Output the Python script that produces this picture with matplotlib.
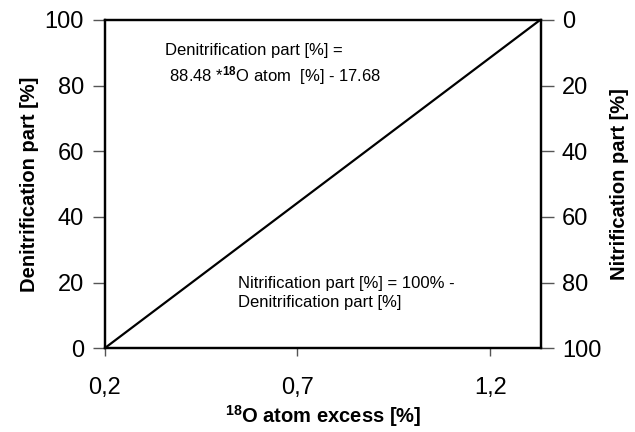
import matplotlib.pyplot as plt
from matplotlib.ticker import FuncFormatter

plt.rcParams['font.family'] = ['Liberation Sans', 'DejaVu Sans']
plt.rcParams['mathtext.fontset'] = 'custom'
plt.rcParams['mathtext.rm'] = 'Liberation Sans'
plt.rcParams['mathtext.bf'] = 'Liberation Sans:bold'

# denitrification part [%] = 88.48 * 18O atom [%] - 17.68
o18_excess = [0.1998, 1.3300]
denit_part = [0.0, 100.0]
x_ticks = [0.2, 0.7, 1.2]
y_ticks = [0, 20, 40, 60, 80, 100]

fig = plt.figure(figsize=(6.35, 4.32), dpi=100)
ax = fig.add_axes([0.165, 0.194, 0.687, 0.760])

ax.plot(o18_excess, denit_part, color='black', linewidth=1.6)
ax.set_xlim(0.2, 1.332)
ax.set_ylim(0, 100)
ax.set_xticks(x_ticks)
ax.set_yticks(y_ticks)
ax.xaxis.set_major_formatter(FuncFormatter(lambda v, p: f"{v:.1f}".replace('.', ',')))
for s in ax.spines.values():
    s.set_linewidth(1.6)
ax.tick_params(axis='x', direction='out', length=6, width=1, color='#555555',
               labelsize=17, pad=15)
ax.tick_params(axis='y', direction='out', length=9, width=1, color='#555555',
               labelsize=17, pad=6)

ax.set_ylabel('Denitrification part [%]', fontsize=14.5, fontweight='bold', labelpad=4)
ax.set_xlabel(r'$\mathbf{^{18}}$O atom excess [%]', fontsize=14.5, fontweight='bold', labelpad=3)

ax2 = ax.twinx()
ax2.set_ylim(100, 0)
ax2.set_yticks(y_ticks)
for s in ax2.spines.values():
    s.set_linewidth(1.6)
ax2.tick_params(axis='y', direction='out', length=9, width=1, color='#555555',
                labelsize=17, pad=6)
ax2.set_ylabel('Nitrification part [%]', fontsize=14.5, fontweight='bold', labelpad=6)

ax.text(0.138, 0.93, 'Denitrification part [%] =\n 88.48 *$\\mathbf{^{18}}$O atom  [%] - 17.68',
        transform=ax.transAxes, fontsize=12, va='top', linespacing=1.35)
ax.text(0.305, 0.22, 'Nitrification part [%] = 100% -\nDenitrification part [%]',
        transform=ax.transAxes, fontsize=12, va='top', linespacing=1.3)

fig.savefig('out.png', dpi=100)
